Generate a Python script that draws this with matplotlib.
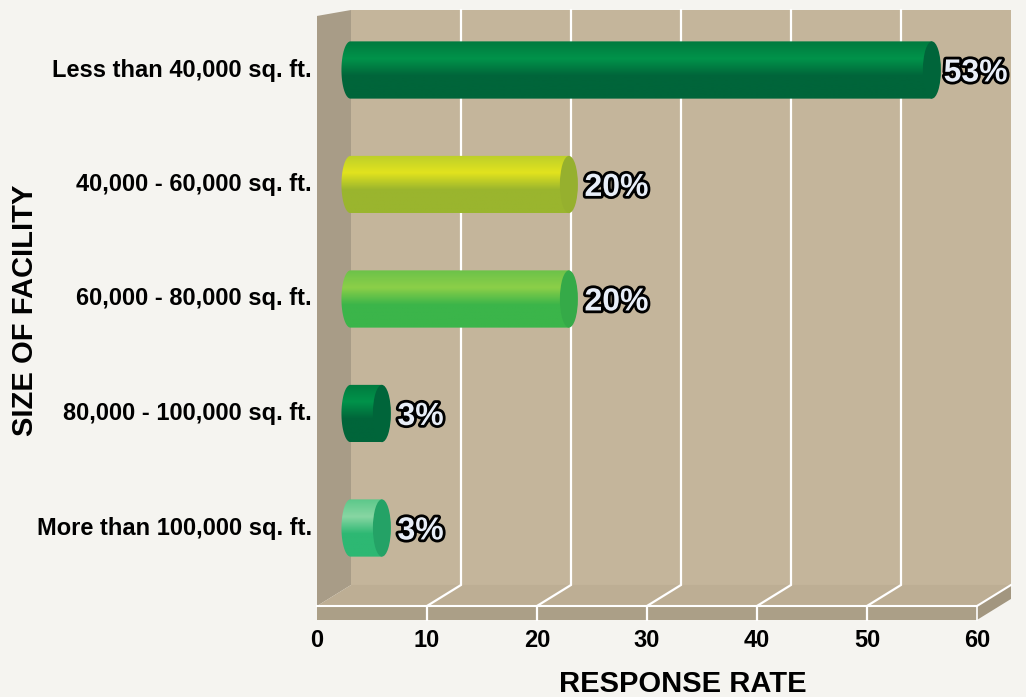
import matplotlib
matplotlib.use("Agg")
import matplotlib.pyplot as plt
import matplotlib.patheffects as pe
import numpy as np
from matplotlib.patches import Polygon, Ellipse, PathPatch
from matplotlib.path import Path

plt.rcParams['font.family'] = ['Liberation Sans', 'DejaVu Sans']

# data
categories = ["Less than 40,000 sq. ft.", "40,000 - 60,000 sq. ft.",
              "60,000 - 80,000 sq. ft.", "80,000 - 100,000 sq. ft.",
              "More than 100,000 sq. ft."]
values = [53, 20, 20, 3, 3]
ticks = [0, 10, 20, 30, 40, 50, 60]
# (top, highlight, bottom, cap) per bar
bar_colors = [
    ("#007a3f", "#00934a", "#00653a", "#00653a"),
    ("#bccf2a", "#e2e31e", "#9ab52e", "#96b02e"),
    ("#6cc24a", "#8ccf48", "#3bb54a", "#35aa48"),
    ("#007a3f", "#00934a", "#00653a", "#00653a"),
    ("#5cc88a", "#88d6a3", "#2db873", "#24a266"),
]

W, H = 1026, 697
fig = plt.figure(figsize=(W / 100, H / 100), dpi=100)
fig.patch.set_facecolor("#f5f4f0")
ax = fig.add_axes([0, 0, 1, 1])
ax.set_axis_off()

# 1 data unit on x = 11 px, 0 sits at px 317; category spacing 114.5 px, first at px 70
ax.set_xlim(-317 / 11, (W - 317) / 11)
ax.set_ylim((H - 70) / 114.5, -70 / 114.5)

# depth offset of the back wall
dx, dy = 34 / 11, -21 / 114.5
xmax = ticks[-1]
y_floor = 4.681          # front edge of the floor
y_slab = 4.803           # bottom of the floor slab
y_top_back = -0.524
y_top_side = -0.472

# back wall
ax.add_patch(Polygon([(dx, y_top_back), (xmax + dx, y_top_back),
                      (xmax + dx, y_floor + dy), (dx, y_floor + dy)],
                     closed=True, fc="#c4b59b", ec="none", zorder=1))
# side wall
ax.add_patch(Polygon([(0, y_top_side), (dx, y_top_back), (dx, y_floor + dy),
                      (0, y_floor)], closed=True, fc="#a89c87", ec="none", zorder=1))
# floor
ax.add_patch(Polygon([(0, y_floor), (dx, y_floor + dy), (xmax + dx, y_floor + dy),
                      (xmax, y_floor)], closed=True, fc="#bdae94", ec="none", zorder=1))
# slab front and right side
ax.add_patch(Polygon([(0, y_floor), (xmax, y_floor), (xmax, y_slab), (0, y_slab)],
                     closed=True, fc="#ab9f87", ec="none", zorder=1))
ax.add_patch(Polygon([(xmax, y_floor), (xmax + dx, y_floor + dy),
                      (xmax + dx, y_slab + dy), (xmax, y_slab)],
                     closed=True, fc="#a2967f", ec="none", zorder=1))
ax.plot([0, xmax], [y_floor, y_floor], color="white", lw=1.5, zorder=2)

# grid lines
for t in ticks[1:-1]:
    ax.plot([t + dx, t + dx, t, t], [y_top_back, y_floor + dy, y_floor, y_slab],
            color="white", lw=1.6, zorder=2, solid_joinstyle="miter")
ax.plot([xmax, xmax + dx], [y_floor, y_floor + dy], color="white", lw=1.5, zorder=2)
ax.plot([xmax, xmax], [y_floor, y_slab], color="white", lw=1.2, zorder=2)

# cylinders
bh = 0.5
cap_w = 18 / 11
start = dx - 0.05
for i, (v, cols) in enumerate(zip(values, bar_colors)):
    end = v + 2.9
    yc = i
    top, hi, bot, capc = cols
    # body outline: left half ellipse + rectangle
    th = np.linspace(np.pi / 2, 3 * np.pi / 2, 30)
    left = np.column_stack([start + cap_w / 2 * np.cos(th), yc - bh / 2 * np.sin(th)])
    verts = np.vstack([[[end, yc - bh / 2]], left, [[end, yc + bh / 2]], [[end, yc - bh / 2]]])
    clip = PathPatch(Path(verts), fc="none", ec="none", transform=ax.transData)
    ax.add_patch(clip)
    cmap = matplotlib.colors.LinearSegmentedColormap.from_list(
        "c%d" % i, [(0, top), (0.3, hi), (0.6, bot), (1, bot)])
    grad = np.linspace(0, 1, 100).reshape(-1, 1)
    im = ax.imshow(grad, cmap=cmap, aspect="auto", interpolation="bilinear",
                   extent=[start - cap_w, end, yc + bh / 2, yc - bh / 2], zorder=3)
    im.set_clip_path(clip)
    ax.add_patch(Ellipse((end, yc), cap_w, bh, fc=capc, ec="none", zorder=4))
    gap = 0.25 if v > 50 else 0.6
    ax.text(end + cap_w / 2 + gap, yc + 0.03, "%d%%" % v, fontsize=23, fontweight="bold",
            color="#e8eef8", ha="left", va="center", zorder=5,
            path_effects=[pe.withStroke(linewidth=4, foreground="black")])

# category labels
for i, c in enumerate(categories):
    ax.text(-0.45, i, c, ha="right", va="center", fontsize=17, fontweight="bold")

# tick labels
for t in ticks:
    ax.text(t, 4.98, str(t), ha="center", va="center", fontsize=17, fontweight="bold")

ax.text(33.3, 5.36, "RESPONSE RATE", ha="center", va="center", fontsize=21, fontweight="bold")
ax.text(-26.5, 2.1, "SIZE OF FACILITY", ha="center", va="center", rotation=90,
        fontsize=21, fontweight="bold")

fig.savefig("out.png", dpi=100, facecolor=fig.get_facecolor())
